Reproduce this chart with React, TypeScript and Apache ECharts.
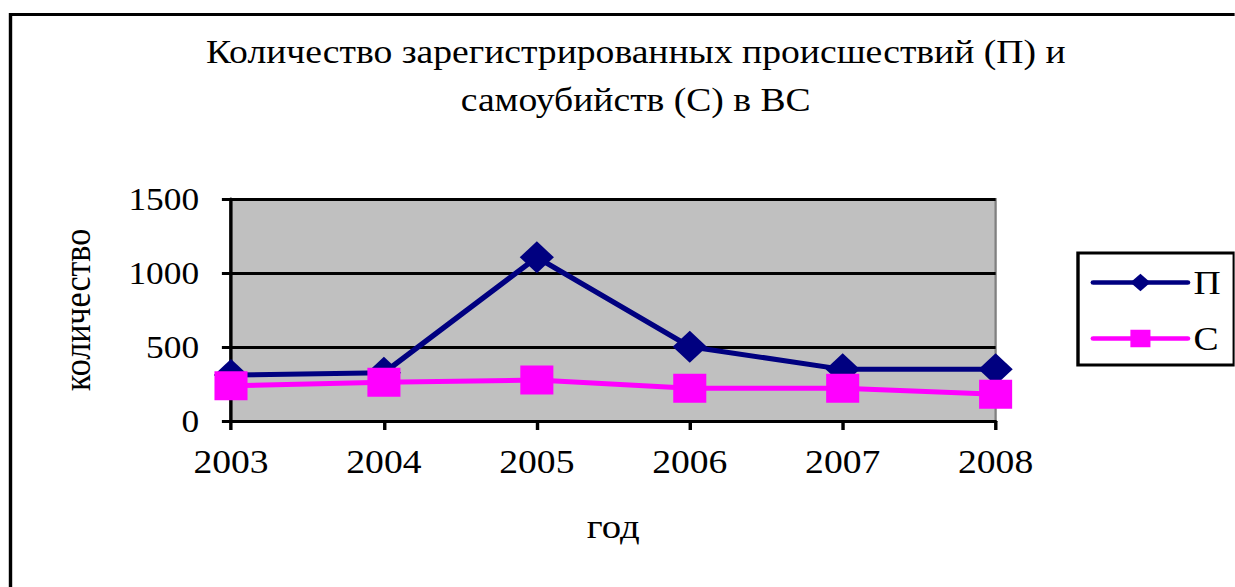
import React, { useEffect, useRef } from "react";
import * as echarts from "echarts";

const titleLines = ["Количество зарегистрированных происшествий (П) и", "самоубийств (С) в ВС"];
const years = ["2003", "2004", "2005", "2006", "2007", "2008"];
const incidents = [310, 326, 1106, 502, 349, 349];
const suicides = [238, 261, 277, 221, 221, 180];
const seriesNames = ["П", "С"];
const yTicks = { min: 0, max: 1500, interval: 500 };
const xAxisName = "год";
const yAxisName = "количество";

const FONT = "'Liberation Serif', 'Times New Roman', serif";
// the reference picture is stretched horizontally; render narrower and stretch
const S = 1.14;
const W = 1235 / S;
const H = 587;
const sx = (x: number) => x / S;

export default function App() {
  const ref = useRef<HTMLDivElement>(null);
  useEffect(() => {
    if (!ref.current) return;
    const chart = echarts.init(ref.current, null, { renderer: "svg" });
    chart.setOption({
      animation: false,
      backgroundColor: "#ffffff",
      textStyle: { fontFamily: FONT, color: "#000" },
      title: {
        text: titleLines.join("\n"),
        left: sx(630),
        top: 23,
        textAlign: "center",
        textStyle: { fontFamily: FONT, fontSize: 33, fontWeight: "normal", color: "#000", lineHeight: 48 },
      },
      graphic: [
        {
          type: "rect",
          shape: { x: sx(10.5), y: 14.5, width: 1200, height: 620 },
          style: { fill: "none", stroke: "#000", lineWidth: 3 },
          silent: true,
        },
      ],
      legend: {
        orient: "vertical",
        left: sx(1078),
        top: 253,
        padding: [13, 12, 10, 11],
        itemWidth: 83,
        itemHeight: 22,
        itemGap: 23,
        borderColor: "#000",
        borderWidth: 3,
        backgroundColor: "#fff",
        lineStyle: { width: 4.5, cap: "round" },
        textStyle: { fontFamily: FONT, fontSize: 33, color: "#000" },
        data: seriesNames,
      },
      grid: {
        left: sx(231),
        top: 199,
        right: W - sx(996),
        bottom: H - 421,
        show: true,
        backgroundColor: "#c0c0c0",
        borderColor: "#808080",
        borderWidth: 2,
      },
      xAxis: {
        type: "category",
        data: years,
        boundaryGap: false,
        name: xAxisName,
        nameLocation: "middle",
        nameGap: 89,
        nameTextStyle: { fontFamily: FONT, fontSize: 34, color: "#000" },
        axisLine: { lineStyle: { color: "#000", width: 3 } },
        axisTick: { show: true, length: 9, lineStyle: { color: "#000", width: 3 } },
        axisLabel: { fontFamily: FONT, fontSize: 33, color: "#000", margin: 24 },
        splitLine: { show: false },
      },
      yAxis: {
        type: "value",
        min: yTicks.min,
        max: yTicks.max,
        interval: yTicks.interval,
        name: yAxisName,
        nameLocation: "middle",
        nameGap: 118,
        nameRotate: 90,
        nameTextStyle: { fontFamily: FONT, fontSize: 34, color: "#000" },
        axisLine: { show: true, lineStyle: { color: "#000", width: 3 } },
        axisTick: { show: true, length: 8, lineStyle: { color: "#000", width: 3 } },
        axisLabel: {
          fontFamily: FONT,
          fontSize: 31,
          color: "#000",
          margin: 28,
          formatter: (v: number) => String(v),
        },
        splitLine: { show: true, lineStyle: { color: "#000", width: 3 } },
      },
      series: [
        {
          name: seriesNames[0],
          type: "line",
          data: incidents,
          symbol: "diamond",
          symbolSize: [30, 32],
          lineStyle: { color: "#000080", width: 5 },
          itemStyle: { color: "#000080" },
          z: 2,
        },
        {
          name: seriesNames[1],
          type: "line",
          data: suicides,
          symbol: "rect",
          symbolSize: [29, 29],
          lineStyle: { color: "#ff00ff", width: 5 },
          itemStyle: { color: "#ff00ff" },
          z: 3,
        },
      ],
    });
    return () => chart.dispose();
  }, []);
  return (
    <div style={{ position: "absolute", left: 0, top: 0, width: 1235, height: H, overflow: "hidden", background: "#fff" }}>
      <div
        ref={ref}
        style={{ width: W, height: H, transform: `scaleX(${S})`, transformOrigin: "0 0" }}
      />
    </div>
  );
}
